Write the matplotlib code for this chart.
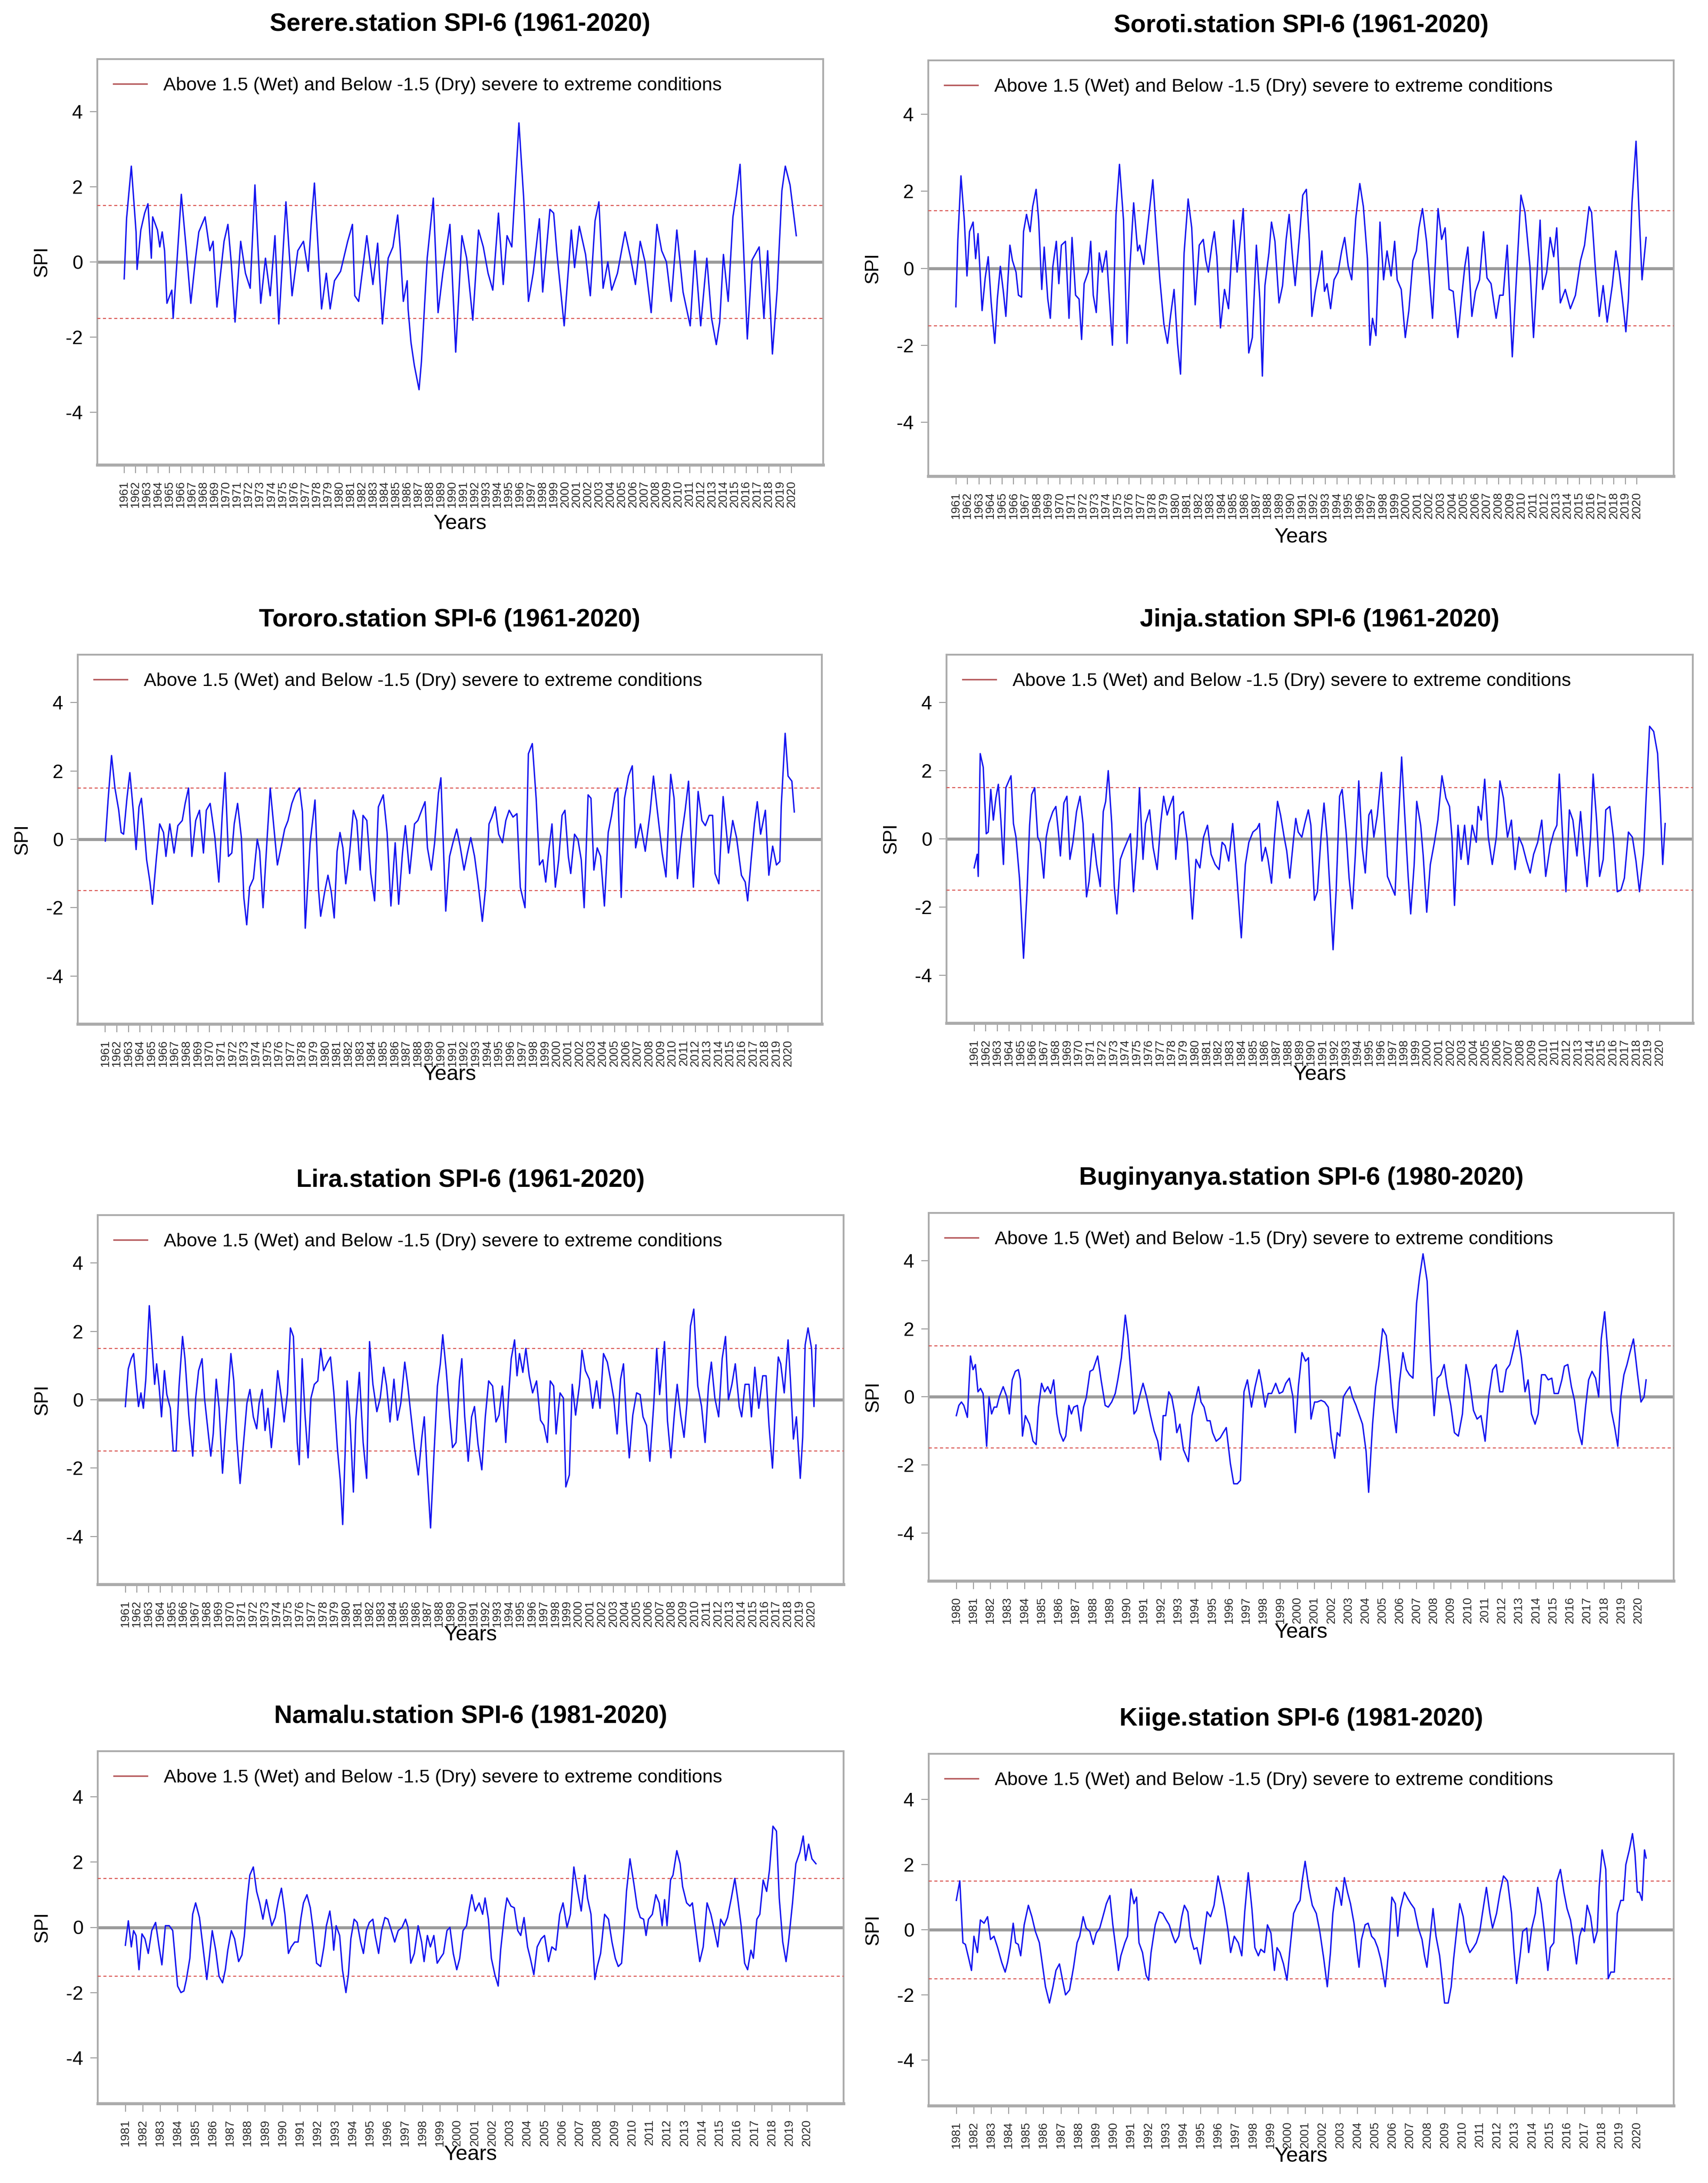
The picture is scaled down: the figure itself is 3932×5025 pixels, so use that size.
import numpy as np
import matplotlib
matplotlib.use('Agg')
import matplotlib.pyplot as plt
from matplotlib import font_manager as fm
from matplotlib.lines import Line2D

# ---------------- data ----------------
serere_years = [1961.00,1961.21,1961.63,1962.05,1962.14,1962.47,1962.81,1963.10,1963.40,1963.52,
1963.94,1964.15,1964.36,1964.57,1964.78,1965.21,1965.33,1965.63,1966.05,1966.47,
1966.89,1967.31,1967.60,1968.15,1968.57,1968.86,1969.20,1969.83,1970.17,1970.46,
1970.80,1971.30,1971.72,1972.14,1972.56,1973.07,1973.49,1973.91,1974.33,1974.67,
1975.30,1975.84,1976.35,1976.85,1977.27,1977.53,1977.82,1978.45,1978.87,1979.21,
1979.59,1980.13,1980.76,1981.18,1981.39,1981.73,1982.45,1982.99,1983.41,1983.83,
1984.34,1984.76,1985.18,1985.39,1985.68,1986.02,1986.10,1986.36,1986.65,1987.07,
1987.28,1987.79,1988.33,1988.75,1989.17,1989.80,1990.31,1990.86,1991.28,1991.82,
1992.33,1992.75,1993.17,1993.59,1994.09,1994.51,1994.85,1995.27,1995.90,1996.32,
1996.74,1997.16,1997.71,1998.00,1998.64,1998.97,1999.27,1999.90,2000.53,2000.82,
2001.24,2001.79,2002.21,2002.63,2002.97,2003.34,2003.76,2004.10,2004.61,2005.28,
2005.78,2006.20,2006.62,2007.05,2007.59,2008.10,2008.52,2008.94,2009.36,2009.86,
2010.41,2011.04,2011.46,2011.97,2012.51,2012.93,2013.35,2013.65,2013.98,2014.40,
2014.82,2015.12,2015.45,2016.09,2016.51,2017.14,2017.56,2017.89,2018.31,2018.73,
2019.15,2019.45,2019.87,2020.42]
serere_spi = [-0.45,1.15,2.55,0.8,-0.2,0.85,1.3,1.55,0.1,1.2,
0.85,0.4,0.8,0.3,-1.1,-0.75,-1.5,-0.15,1.8,0.4,
-1.1,0.1,0.8,1.2,0.3,0.55,-1.2,0.55,1.0,0,
-1.6,0.55,-0.3,-0.7,2.05,-1.1,0.1,-0.9,0.7,-1.65,
1.6,-0.9,0.3,0.55,-0.25,1.0,2.1,-1.25,-0.3,-1.25,
-0.5,-0.25,0.55,1.0,-0.9,-1.05,0.7,-0.6,0.5,-1.65,
0.1,0.4,1.25,0.4,-1.05,-0.5,-1.25,-2.15,-2.75,-3.4,
-2.65,0.1,1.7,-1.35,-0.3,1.0,-2.4,0.7,0.1,-1.55,
0.85,0.4,-0.3,-0.75,1.3,-0.6,0.7,0.4,3.7,1.7,
-1.05,-0.3,1.15,-0.8,1.4,1.3,0.2,-1.7,0.85,-0.15,
0.95,0.2,-0.9,1.1,1.6,-0.7,0,-0.75,-0.3,0.8,
0.1,-0.6,0.55,0,-1.35,1.0,0.3,0,-1.05,0.85,
-0.8,-1.7,0.3,-1.7,0.1,-1.5,-2.2,-1.6,0.2,-1.05,
1.2,1.8,2.6,-2.05,0.05,0.4,-1.5,0.3,-2.45,-0.75,
1.9,2.55,2.05,0.7]

soroti_years = [1961.00,1961.17,1961.44,1961.74,1961.96,1962.18,1962.49,1962.71,1962.92,1963.27,
1963.54,1963.80,1964.06,1964.37,1964.59,1964.85,1965.11,1965.33,1965.68,1965.90,
1966.21,1966.42,1966.69,1966.86,1967.12,1967.43,1967.65,1967.95,1968.17,1968.44,
1968.65,1968.96,1969.18,1969.40,1969.70,1969.92,1970.14,1970.49,1970.80,1971.06,
1971.37,1971.67,1971.89,1972.11,1972.46,1972.68,1972.90,1973.16,1973.42,1973.68,
1974.03,1974.30,1974.56,1974.87,1975.17,1975.52,1975.83,1976.05,1976.40,1976.75,
1976.92,1977.27,1977.49,1978.06,1978.36,1978.67,1979.02,1979.33,1979.59,1979.90,
1980.20,1980.46,1980.77,1981.12,1981.43,1981.73,1982.08,1982.43,1982.65,1982.87,
1983.18,1983.39,1983.61,1983.92,1984.27,1984.62,1985.06,1985.36,1985.89,1986.11,
1986.37,1986.68,1987.03,1987.33,1987.55,1987.77,1988.12,1988.34,1988.64,1988.99,
1989.30,1989.61,1989.87,1990.17,1990.39,1990.74,1991.05,1991.36,1991.62,1991.84,
1992.14,1992.49,1992.71,1992.93,1993.15,1993.46,1993.76,1994.11,1994.42,1994.68,
1994.99,1995.29,1995.64,1995.99,1996.30,1996.65,1996.87,1997.09,1997.39,1997.74,
1998.05,1998.35,1998.70,1999.01,1999.23,1999.58,1999.93,2000.24,2000.59,2000.89,
2001.11,2001.42,2001.77,2001.98,2002.29,2002.77,2003.08,2003.38,2003.73,2004.08,
2004.48,2004.83,2005.09,2005.35,2005.70,2006.01,2006.36,2006.71,2007.01,2007.36,
2007.80,2008.11,2008.41,2008.76,2009.20,2009.55,2009.95,2010.30,2010.73,2011.04,
2011.61,2011.83,2012.18,2012.48,2012.79,2013.05,2013.36,2013.79,2014.23,2014.67,
2015.11,2015.46,2015.85,2016.07,2016.42,2016.73,2017.07,2017.42,2017.86,2018.17,
2018.47,2018.74,2019.04,2019.26,2019.57,2019.92,2020.14,2020.44,2020.79]
soroti_spi = [-1.0,0.75,2.4,1.2,-0.2,0.95,1.2,0.25,0.9,-1.1,
-0.25,0.3,-0.9,-1.95,-0.8,0.05,-0.6,-1.25,0.6,0.2,
-0.1,-0.7,-0.75,0.95,1.4,0.95,1.6,2.05,1.25,-0.55,
0.55,-0.8,-1.3,0.05,0.7,-0.4,0.6,0.7,-1.3,0.8,
-0.7,-0.8,-1.85,-0.4,-0.1,0.7,-0.7,-1.15,0.4,-0.1,
0.45,-0.8,-2.0,1.4,2.7,1.25,-1.95,-0.1,1.7,0.45,
0.6,0.1,0.75,2.3,0.95,-0.3,-1.45,-1.95,-1.25,-0.55,
-1.95,-2.75,0.4,1.8,1.05,-0.95,0.6,0.75,0.2,-0.1,
0.6,0.95,0.3,-1.55,-0.55,-1.05,1.25,-0.1,1.55,-0.1,
-2.2,-1.8,0.6,-0.8,-2.8,-0.45,0.4,1.2,0.7,-0.9,
-0.45,0.75,1.4,0.25,-0.45,0.75,1.9,2.05,0.7,-1.25,
-0.6,-0.05,0.45,-0.6,-0.4,-1.05,-0.3,-0.1,0.45,0.8,
0.05,-0.3,1.3,2.2,1.6,0.25,-2.0,-1.3,-1.75,1.2,
-0.3,0.45,-0.2,0.7,-0.3,-0.55,-1.8,-1.1,0.2,0.45,
1.05,1.55,0.7,-0.1,-1.3,1.55,0.75,1.05,-0.55,-0.6,
-1.8,-0.7,0.05,0.55,-1.25,-0.6,-0.3,0.95,-0.25,-0.4,
-1.3,-0.7,-0.7,0.6,-2.3,-0.3,1.9,1.45,0.05,-1.8,
1.25,-0.55,-0.1,0.8,0.3,1.05,-0.9,-0.55,-1.05,-0.7,
0.2,0.6,1.6,1.45,-0.1,-1.25,-0.45,-1.4,-0.45,0.45,
-0.1,-0.8,-1.65,-0.8,1.7,3.3,1.75,-0.3,0.8]

tororo_years = [1961.00,1961.25,1961.54,1961.83,1962.16,1962.37,1962.58,1962.87,1963.12,1963.41,
1963.66,1963.91,1964.12,1964.32,1964.57,1964.86,1965.07,1965.40,1965.70,1966.03,
1966.24,1966.57,1966.94,1967.27,1967.65,1967.90,1968.19,1968.48,1968.81,1969.14,
1969.48,1969.73,1970.06,1970.47,1970.81,1971.10,1971.35,1971.64,1971.93,1972.14,
1972.43,1972.76,1972.97,1973.22,1973.47,1973.80,1974.13,1974.34,1974.63,1974.96,
1975.25,1975.54,1975.87,1976.21,1976.50,1976.79,1977.12,1977.45,1977.79,1978.04,
1978.28,1978.70,1979.12,1979.41,1979.61,1979.95,1980.24,1980.53,1980.78,1981.03,
1981.28,1981.53,1981.78,1982.11,1982.44,1982.73,1983.02,1983.27,1983.60,1983.94,
1984.27,1984.60,1985.02,1985.35,1985.68,1986.05,1986.35,1986.68,1986.93,1987.30,
1987.72,1988.01,1988.34,1988.63,1988.84,1989.17,1989.46,1989.79,1990.00,1990.42,
1990.75,1991.04,1991.37,1991.66,1992.00,1992.29,1992.58,1992.91,1993.24,1993.58,
1993.87,1994.16,1994.41,1994.70,1994.99,1995.32,1995.61,1995.90,1996.23,1996.57,
1996.86,1997.27,1997.56,1997.90,1998.23,1998.52,1998.81,1999.06,1999.35,1999.60,
1999.89,2000.18,2000.47,2000.72,2001.01,2001.22,2001.55,2001.84,2002.13,2002.38,
2002.72,2002.97,2003.22,2003.51,2003.80,2004.13,2004.46,2004.75,2005.04,2005.29,
2005.58,2005.87,2006.21,2006.54,2006.83,2007.25,2007.66,2008.08,2008.37,2008.70,
2009.12,2009.45,2009.86,2010.15,2010.44,2010.78,2011.11,2011.40,2011.82,2012.23,
2012.56,2012.85,2013.19,2013.48,2013.69,2014.02,2014.39,2014.85,2015.22,2015.55,
2015.97,2016.30,2016.51,2016.80,2017.09,2017.34,2017.63,2018.04,2018.34,2018.67,
2019.00,2019.29,2019.41,2019.75,2020.00,2020.33,2020.54]
tororo_spi = [-0.05,1.2,2.45,1.5,0.85,0.2,0.15,1.2,1.95,0.85,
-0.3,0.95,1.2,0.45,-0.6,-1.25,-1.9,-0.6,0.45,0.2,
-0.5,0.45,-0.4,0.4,0.55,1.05,1.5,-0.5,0.55,0.85,
-0.4,0.85,1.05,0.05,-1.25,0.7,1.95,-0.5,-0.4,0.45,
1.05,0.05,-1.7,-2.5,-1.4,-1.15,0,-0.35,-2.0,-0.1,
1.5,0.45,-0.75,-0.2,0.3,0.55,1.05,1.35,1.5,0.8,
-2.6,-0.1,1.15,-1.4,-2.25,-1.55,-1.05,-1.55,-2.3,-0.35,
0.2,-0.25,-1.3,-0.4,0.85,0.55,-0.9,0.7,0.55,-1.0,
-1.8,0.95,1.3,0.2,-1.95,-0.1,-1.9,-0.4,0.4,-1.0,
0.45,0.55,0.85,1.1,-0.25,-0.9,-0.1,1.35,1.8,-2.1,
-0.5,-0.1,0.3,-0.2,-0.9,-0.4,0.05,-0.5,-1.35,-2.4,
-1.4,0.45,0.65,0.95,0.15,-0.1,0.55,0.85,0.65,0.75,
-1.4,-2.0,2.5,2.8,1.2,-0.75,-0.6,-1.25,-0.25,0.45,
-1.4,-0.6,0.7,0.85,-0.5,-1.0,0.15,0,-0.6,-2.0,
1.3,1.2,-0.9,-0.25,-0.5,-1.95,0.2,0.7,1.35,1.5,
-1.7,1.2,1.85,2.15,-0.25,0.45,-0.35,0.8,1.85,0.85,
-0.4,-1.1,1.9,1.2,-1.15,0.05,0.85,1.7,-1.4,1.4,
0.55,0.4,0.7,0.7,-1.0,-1.3,1.25,-0.4,0.55,0.05,
-1.05,-1.25,-1.8,-0.65,0.45,1.1,0.15,0.85,-1.05,-0.2,
-0.75,-0.65,0.95,3.1,1.85,1.7,0.8]

jinja_years = [1961.00,1961.26,1961.35,1961.52,1961.78,1962.04,1962.21,1962.43,1962.65,1962.87,
1963.08,1963.30,1963.52,1963.73,1964.17,1964.38,1964.60,1964.90,1965.25,1965.55,
1965.77,1965.95,1966.21,1966.47,1966.68,1966.99,1967.20,1967.42,1967.77,1968.03,
1968.29,1968.42,1968.72,1968.98,1969.24,1969.50,1969.81,1970.11,1970.37,1970.67,
1970.89,1971.24,1971.54,1971.85,1972.11,1972.32,1972.54,1972.84,1973.06,1973.28,
1973.58,1973.84,1974.14,1974.45,1974.71,1975.01,1975.23,1975.53,1975.75,1976.10,
1976.40,1976.75,1977.05,1977.31,1977.61,1977.83,1978.14,1978.35,1978.70,1979.00,
1979.35,1979.78,1980.09,1980.43,1980.74,1981.08,1981.39,1981.74,1982.08,1982.34,
1982.60,1982.91,1983.25,1983.56,1983.99,1984.34,1984.64,1984.99,1985.34,1985.55,
1985.77,1986.07,1986.29,1986.59,1986.85,1987.11,1987.37,1987.68,1987.90,1988.16,
1988.46,1988.68,1988.89,1989.20,1989.46,1989.76,1989.98,1990.28,1990.54,1990.85,
1991.11,1991.37,1991.63,1991.89,1992.15,1992.45,1992.67,1993.01,1993.27,1993.54,
1993.80,1994.10,1994.40,1994.66,1994.97,1995.18,1995.40,1995.70,1996.05,1996.31,
1996.57,1996.92,1997.22,1997.44,1997.79,1998.00,1998.35,1998.57,1998.87,1999.09,
1999.43,1999.65,1999.95,2000.26,2000.61,2000.91,2001.26,2001.60,2001.91,2002.12,
2002.34,2002.64,2002.90,2003.21,2003.51,2003.86,2004.21,2004.38,2004.64,2004.94,
2005.25,2005.59,2005.94,2006.25,2006.55,2006.90,2007.24,2007.55,2007.89,2008.20,
2008.54,2008.85,2009.15,2009.50,2009.85,2010.19,2010.58,2010.89,2011.15,2011.36,
2011.67,2011.93,2012.23,2012.53,2012.88,2013.19,2013.49,2013.75,2014.05,2014.27,
2014.57,2014.83,2015.14,2015.36,2015.70,2016.01,2016.35,2016.66,2016.96,2017.31,
2017.65,2017.96,2018.26,2018.61,2018.83,2019.13,2019.48,2019.82,2020.04,2020.26,
2020.47]
jinja_spi = [-0.85,-0.45,-1.1,2.5,2.1,0.15,0.2,1.45,0.55,1.2,
1.6,0.55,-0.75,1.5,1.85,0.45,0.05,-1.15,-3.5,-1.55,
0.4,1.3,1.5,0.05,-0.1,-1.15,0.05,0.45,0.8,0.95,
0.05,-0.5,1.05,1.25,-0.6,-0.1,0.8,1.25,0.45,-1.7,
-1.25,0.15,-0.75,-1.4,0.8,1.1,2.0,0.45,-1.4,-2.2,
-0.6,-0.35,-0.1,0.15,-1.55,-0.2,1.5,-0.6,0.45,0.85,
-0.25,-0.9,0.45,1.25,0.7,0.95,1.25,-0.6,0.7,0.8,
-0.1,-2.35,-0.6,-0.85,0.05,0.4,-0.45,-0.75,-0.9,-0.1,
-0.2,-0.65,0.45,-0.9,-2.9,-0.75,-0.1,0.2,0.3,0.45,
-0.65,-0.25,-0.6,-1.3,0.05,1.1,0.7,0.05,-0.35,-1.15,
-0.1,0.6,0.2,0.05,0.45,0.85,0.4,-1.8,-1.55,0.05,
1.05,0.05,-1.55,-3.25,-1.55,1.25,1.45,0.2,-1.15,-2.05,
-0.5,1.7,-0.25,-1.0,0.7,0.85,0.05,0.7,1.95,0.45,
-1.1,-1.4,-1.65,0.05,2.4,1.05,-1.1,-2.2,-0.75,1.1,
0.4,-0.5,-2.15,-0.75,-0.1,0.55,1.85,1.2,0.95,0.05,
-1.95,0.4,-0.6,0.4,-0.75,0.4,-0.1,0.95,0.55,1.75,
0.05,-0.75,0.05,1.7,1.2,0.05,0.55,-0.9,0.05,-0.2,
-0.65,-1.0,-0.45,-0.1,0.55,-1.1,-0.2,0.2,0.4,1.9,
-0.1,-1.55,0.85,0.55,-0.5,0.8,-0.45,-1.4,0.05,1.9,
0.55,-1.1,-0.6,0.85,0.95,0.05,-1.55,-1.5,-1.15,0.2,
0.05,-0.65,-1.55,-0.45,1.2,3.3,3.15,2.5,1.05,-0.75,
0.45]

lira_years = [1961.00,1961.25,1961.50,1961.71,1961.92,1962.13,1962.34,1962.55,1962.76,1963.06,
1963.31,1963.52,1963.69,1963.90,1964.11,1964.36,1964.57,1964.87,1965.12,1965.37,
1965.62,1965.92,1966.13,1966.46,1966.80,1967.05,1967.30,1967.60,1967.81,1968.06,
1968.35,1968.56,1968.82,1969.07,1969.36,1969.61,1969.82,1970.08,1970.33,1970.58,
1970.87,1971.17,1971.46,1971.72,1972.01,1972.30,1972.51,1972.77,1973.02,1973.27,
1973.56,1973.82,1974.11,1974.45,1974.66,1974.95,1975.20,1975.46,1975.79,1975.96,
1976.21,1976.46,1976.72,1976.97,1977.26,1977.56,1977.81,1978.06,1978.40,1978.65,
1978.94,1979.24,1979.49,1979.70,1979.91,1980.08,1980.33,1980.62,1980.83,1981.13,
1981.46,1981.76,1982.01,1982.30,1982.64,1982.93,1983.23,1983.48,1983.77,1984.11,
1984.41,1984.70,1985.04,1985.29,1985.54,1985.88,1986.21,1986.51,1986.72,1986.93,
1987.26,1987.56,1987.85,1988.10,1988.31,1988.61,1988.90,1989.15,1989.45,1989.74,
1989.95,1990.20,1990.50,1990.79,1991.04,1991.34,1991.67,1991.97,1992.26,1992.60,
1992.89,1993.15,1993.44,1993.73,1993.99,1994.20,1994.49,1994.70,1994.91,1995.20,
1995.46,1995.75,1996.04,1996.38,1996.72,1997.01,1997.31,1997.56,1997.85,1998.06,
1998.40,1998.69,1998.90,1999.20,1999.45,1999.74,2000.08,2000.29,2000.58,2000.92,
2001.21,2001.55,2001.84,2002.14,2002.47,2002.77,2003.02,2003.31,2003.61,2003.86,
2004.11,2004.36,2004.66,2004.99,2005.29,2005.54,2005.84,2006.13,2006.47,2006.72,
2006.97,2007.39,2007.64,2007.94,2008.23,2008.48,2008.78,2009.07,2009.32,2009.62,
2009.91,2010.25,2010.58,2010.88,2011.17,2011.42,2011.72,2012.05,2012.35,2012.64,
2012.89,2013.19,2013.48,2013.82,2014.03,2014.32,2014.66,2014.87,2015.16,2015.50,
2015.84,2016.13,2016.38,2016.68,2016.97,2017.18,2017.39,2017.69,2018.02,2018.23,
2018.48,2018.74,2019.07,2019.28,2019.49,2019.74,2020.04,2020.25,2020.42]
lira_spi = [-0.2,0.9,1.2,1.35,0.55,-0.2,0.2,-0.25,0.6,2.75,
1.5,0.45,1.05,0.4,-0.5,0.85,0.15,-0.25,-1.5,-1.5,
0.4,1.85,1.2,-0.45,-1.65,0.05,0.85,1.2,0.05,-0.75,
-1.65,-1.0,0.6,-0.25,-2.15,-0.9,0.05,1.35,0.55,-1.15,
-2.45,-1.25,-0.1,0.3,-0.5,-0.85,-0.1,0.3,-0.9,-0.25,
-1.4,-0.45,0.85,0,-0.65,0.2,2.1,1.85,-1.25,-1.9,
1.2,-0.45,-1.7,0.05,0.45,0.55,1.5,0.85,1.1,1.25,
0.2,-1.4,-2.35,-3.65,-1.55,0.55,-0.6,-2.7,-0.6,0.8,
-1.25,-2.3,1.7,0.45,-0.35,0.05,0.95,0.4,-0.65,0.6,
-0.6,-0.1,1.1,0.45,-0.35,-1.4,-2.2,-1.1,-0.5,-1.9,
-3.75,-1.55,0.4,1.05,1.9,0.85,-0.45,-1.4,-1.25,0.55,
1.2,-0.5,-1.8,-0.5,-0.2,-1.3,-2.05,-0.5,0.55,0.4,
-0.65,-0.45,0.4,-1.25,0.2,1.2,1.75,0.7,1.35,0.8,
1.5,0.7,0.2,0.55,-0.6,-0.75,-1.25,0.55,0.4,-1.0,
0.2,0.05,-2.55,-2.2,0.45,-0.45,0.45,1.45,0.85,0.6,
-0.25,0.55,-0.25,1.35,1.1,0.55,0.05,-1.0,0.6,1.05,
-0.6,-1.7,-0.45,0.2,0.15,-0.5,-0.75,-1.8,-0.1,1.5,
0.15,1.7,-0.6,-1.7,-0.45,0.45,-0.45,-1.1,-0.1,2.15,
2.65,0.4,-0.2,-1.25,0.4,1.1,0.05,-0.5,1.2,1.85,
0,0.45,1.05,-0.2,-0.5,0.45,0.45,-0.5,0.95,-0.25,
0.7,0.7,-0.75,-2.0,0.05,1.25,1.05,0.2,1.75,0.55,
-1.15,-0.5,-2.3,-1.1,1.6,2.1,1.5,-0.2,1.6]

bugi_years = [1980.00,1980.15,1980.30,1980.44,1980.65,1980.83,1980.98,1981.12,1981.27,1981.42,
1981.57,1981.78,1981.92,1982.07,1982.22,1982.37,1982.52,1982.75,1982.96,1983.11,
1983.28,1983.46,1983.64,1983.76,1983.88,1984.05,1984.29,1984.50,1984.68,1984.82,
1985.00,1985.18,1985.36,1985.53,1985.71,1985.89,1986.07,1986.27,1986.42,1986.60,
1986.75,1986.89,1987.10,1987.31,1987.46,1987.63,1987.84,1988.02,1988.29,1988.49,
1988.73,1988.91,1989.11,1989.32,1989.47,1989.68,1989.91,1990.06,1990.27,1990.42,
1990.56,1990.74,1990.95,1991.16,1991.39,1991.60,1991.81,1991.98,1992.13,1992.28,
1992.46,1992.63,1992.81,1992.93,1993.11,1993.32,1993.61,1993.82,1994.06,1994.20,
1994.35,1994.53,1994.71,1994.88,1995.03,1995.24,1995.48,1995.65,1995.83,1996.07,
1996.27,1996.48,1996.66,1996.87,1997.07,1997.31,1997.52,1997.75,1997.90,1998.11,
1998.29,1998.49,1998.73,1998.94,1999.14,1999.32,1999.53,1999.74,1999.88,2000.06,
2000.27,2000.48,2000.65,2000.80,2001.01,2001.16,2001.39,2001.60,2001.81,2001.99,
2002.19,2002.34,2002.49,2002.70,2002.87,2003.08,2003.23,2003.44,2003.61,2003.82,
2004.03,2004.18,2004.41,2004.59,2004.77,2005.00,2005.21,2005.39,2005.60,2005.80,
2005.98,2006.19,2006.39,2006.57,2006.78,2006.99,2007.16,2007.37,2007.61,2007.81,
2008.02,2008.20,2008.41,2008.61,2008.79,2009.00,2009.21,2009.44,2009.68,2009.89,
2010.09,2010.33,2010.54,2010.77,2011.01,2011.22,2011.45,2011.66,2011.87,2012.05,
2012.25,2012.46,2012.70,2012.90,2013.14,2013.35,2013.53,2013.73,2013.94,2014.12,
2014.32,2014.53,2014.71,2014.92,2015.06,2015.30,2015.51,2015.66,2015.86,2016.07,
2016.25,2016.48,2016.69,2016.90,2017.08,2017.28,2017.49,2017.67,2017.82,2018.02,
2018.23,2018.41,2018.61,2018.79,2018.97,2019.15,2019.33,2019.50,2019.71,2019.95,
2020.15,2020.33,2020.45]
bugi_spi = [-0.55,-0.25,-0.15,-0.25,-0.6,1.2,0.8,0.95,0.15,0.25,
0.1,-1.45,0,-0.5,-0.3,-0.3,0,0.3,0,-0.5,
0.5,0.75,0.8,0.5,-1.15,-0.55,-0.8,-1.3,-1.4,-0.3,
0.4,0.15,0.3,0.1,0.5,-0.5,-1.05,-1.3,-1.15,-0.25,
-0.5,-0.3,-0.25,-1.0,-0.3,0,0.75,0.8,1.2,0.5,
-0.25,-0.3,-0.15,0.1,0.5,1.15,2.4,1.8,0.5,-0.5,
-0.4,0,0.4,0,-0.55,-1.0,-1.3,-1.85,-0.55,-0.55,
0.15,0,-0.5,-1.05,-0.8,-1.55,-1.9,-0.55,0,0.3,
-0.15,-0.3,-0.7,-0.7,-1.05,-1.3,-1.2,-1.05,-0.9,-1.95,
-2.55,-2.55,-2.45,0.15,0.5,-0.3,0.3,0.8,0.4,-0.3,
0.1,0.1,0.4,0.1,0.15,0.4,0.55,0,-1.05,0.3,
1.3,1.05,1.15,-0.65,-0.15,-0.15,-0.1,-0.15,-0.3,-1.2,
-1.8,-1.05,-1.15,0,0.15,0.3,0,-0.25,-0.5,-0.8,
-1.6,-2.8,-0.8,0.3,0.9,2.0,1.8,0.95,-0.3,-1.05,
0.4,1.3,0.8,0.65,0.55,2.75,3.5,4.2,3.4,1.15,
-0.55,0.55,0.65,0.95,0.3,-0.25,-1.05,-1.15,-0.5,0.95,
0.5,-0.4,-0.65,-0.55,-1.3,0,0.8,0.95,0.15,0.15,
0.8,0.95,1.45,1.95,1.15,0.15,0.5,-0.5,-0.8,-0.5,
0.65,0.65,0.5,0.55,0.1,0.1,0.5,0.9,0.95,0.3,
-0.1,-1.0,-1.4,-0.3,0.5,0.75,0.55,0,1.7,2.5,
1.15,-0.4,-0.9,-1.45,0,0.65,0.95,1.3,1.7,0.65,
-0.15,0,0.5]

namalu_years = [1981.00,1981.17,1981.34,1981.47,1981.61,1981.78,1981.95,1982.12,1982.31,1982.51,
1982.73,1982.93,1983.09,1983.29,1983.51,1983.71,1983.85,1983.99,1984.18,1984.35,
1984.49,1984.69,1984.85,1985.02,1985.24,1985.44,1985.66,1985.80,1985.97,1986.17,
1986.36,1986.56,1986.72,1986.86,1987.06,1987.25,1987.48,1987.67,1987.81,1987.95,
1988.12,1988.32,1988.51,1988.68,1988.87,1989.07,1989.24,1989.38,1989.57,1989.77,
1989.93,1990.13,1990.33,1990.49,1990.69,1990.88,1991.05,1991.19,1991.39,1991.58,
1991.75,1991.94,1992.17,1992.36,1992.50,1992.70,1992.84,1992.92,1993.06,1993.26,
1993.42,1993.62,1993.76,1993.90,1994.09,1994.26,1994.46,1994.62,1994.79,1994.96,
1995.16,1995.29,1995.49,1995.66,1995.85,1996.02,1996.22,1996.41,1996.61,1996.83,
1997.03,1997.17,1997.33,1997.53,1997.75,1997.95,1998.09,1998.28,1998.45,1998.65,
1998.84,1999.01,1999.20,1999.40,1999.57,1999.76,1999.96,2000.13,2000.32,2000.52,
2000.68,2000.82,2001.02,2001.24,2001.44,2001.58,2001.77,2001.94,2002.14,2002.33,
2002.47,2002.69,2002.83,2003.06,2003.25,2003.45,2003.62,2003.81,2004.01,2004.17,
2004.37,2004.56,2004.79,2004.98,2005.21,2005.40,2005.63,2005.85,2006.04,2006.27,
2006.46,2006.66,2006.88,2007.08,2007.30,2007.44,2007.64,2007.86,2008.00,2008.19,
2008.42,2008.64,2008.84,2009.03,2009.20,2009.39,2009.53,2009.67,2009.87,2010.09,
2010.29,2010.46,2010.65,2010.79,2010.93,2011.15,2011.35,2011.54,2011.71,2011.85,
2011.99,2012.19,2012.33,2012.55,2012.74,2012.88,2013.11,2013.30,2013.44,2013.67,
2013.86,2014.06,2014.28,2014.50,2014.70,2014.89,2015.06,2015.26,2015.45,2015.67,
2015.87,2016.04,2016.23,2016.43,2016.60,2016.79,2016.93,2017.13,2017.30,2017.49,
2017.69,2017.85,2018.05,2018.25,2018.41,2018.61,2018.80,2018.94,2019.17,2019.36,
2019.59,2019.78,2019.92,2020.09,2020.28,2020.51]
namalu_spi = [-0.55,0.2,-0.6,-0.1,-0.25,-1.3,-0.2,-0.35,-0.8,-0.1,
0.15,-0.6,-1.15,0.05,0.05,-0.1,-0.95,-1.8,-2.0,-1.95,
-1.6,-0.95,0.4,0.75,0.3,-0.6,-1.6,-0.95,-0.1,-0.7,
-1.5,-1.7,-1.3,-0.7,-0.1,-0.35,-1.05,-0.85,-0.25,0.75,
1.6,1.85,1.1,0.75,0.25,0.85,0.4,0.05,0.3,0.85,
1.2,0.4,-0.8,-0.6,-0.45,-0.45,0.3,0.75,1.0,0.6,
-0.1,-1.1,-1.2,-0.6,0.05,0.5,-0.1,-0.7,0.05,-0.25,
-1.3,-2.0,-1.45,-0.35,0.25,0.15,-0.45,-0.8,-0.1,0.15,
0.25,-0.25,-0.8,-0.1,0.3,0.25,-0.1,-0.45,-0.1,0,
0.25,0,-1.1,-0.8,0.05,-0.45,-1.05,-0.25,-0.6,-0.25,
-1.1,-0.95,-0.8,-0.1,0,-0.8,-1.3,-0.95,-0.1,0.05,
0.6,1.0,0.5,0.75,0.4,0.9,0.25,-0.95,-1.45,-1.8,
-0.7,0.4,0.9,0.65,0.6,-0.1,-0.25,0.3,-0.6,-0.95,
-1.45,-0.6,-0.35,-0.25,-1.05,-0.6,-0.7,0.4,0.75,0,
0.4,1.85,1.1,0.5,1.6,0.9,0.4,-1.6,-1.2,-0.8,
0.4,0.25,-0.45,-0.95,-1.2,-1.1,-0.1,1.1,2.1,1.35,
0.6,0.3,0.25,-0.25,0.25,0.4,1.0,0.75,0.05,0.85,
0.05,1.45,1.6,2.35,1.95,1.25,0.75,0.65,0.75,-0.25,
-1.05,-0.6,0.75,0.4,-0.1,-0.6,0.25,0.05,0.3,0.9,
1.5,0.85,0.05,-1.1,-1.3,-0.7,-0.95,0.25,0.4,1.45,
1.1,1.75,3.1,2.95,0.9,-0.45,-1.05,-0.45,0.75,1.95,
2.3,2.8,2.05,2.55,2.1,1.95]

kiige_years = [1981.00,1981.20,1981.38,1981.52,1981.72,1981.87,1982.01,1982.21,1982.38,1982.59,
1982.79,1982.96,1983.16,1983.37,1983.60,1983.80,1983.94,1984.09,1984.26,1984.40,
1984.55,1984.69,1984.89,1985.13,1985.33,1985.53,1985.76,1985.93,1986.11,1986.34,
1986.54,1986.71,1986.91,1987.09,1987.26,1987.49,1987.72,1987.92,1988.07,1988.27,
1988.44,1988.65,1988.85,1989.02,1989.22,1989.45,1989.60,1989.80,1989.97,1990.15,
1990.29,1990.43,1990.66,1990.81,1991.01,1991.18,1991.33,1991.47,1991.67,1991.88,
1992.02,1992.16,1992.40,1992.63,1992.83,1993.03,1993.20,1993.41,1993.55,1993.75,
1993.92,1994.07,1994.27,1994.42,1994.62,1994.79,1994.99,1995.19,1995.37,1995.57,
1995.77,1996.00,1996.20,1996.38,1996.58,1996.72,1996.93,1997.16,1997.36,1997.53,
1997.73,1997.94,1998.11,1998.31,1998.45,1998.66,1998.83,1999.03,1999.23,1999.38,
1999.55,1999.75,1999.95,2000.13,2000.33,2000.53,2000.70,2000.82,2000.99,2001.20,
2001.40,2001.63,2001.83,2002.06,2002.26,2002.44,2002.58,2002.78,2002.93,2003.07,
2003.24,2003.42,2003.59,2003.79,2003.94,2004.08,2004.22,2004.43,2004.60,2004.80,
2004.97,2005.15,2005.32,2005.58,2005.75,2005.96,2006.16,2006.30,2006.45,2006.68,
2006.88,2007.05,2007.25,2007.48,2007.69,2007.83,2007.97,2008.12,2008.32,2008.49,
2008.70,2008.84,2008.98,2009.19,2009.36,2009.50,2009.71,2009.85,2010.05,2010.23,
2010.43,2010.63,2010.80,2011.00,2011.15,2011.38,2011.58,2011.73,2011.96,2012.16,
2012.36,2012.59,2012.82,2012.94,2013.11,2013.31,2013.46,2013.69,2013.80,2013.98,
2014.18,2014.32,2014.52,2014.70,2014.90,2015.04,2015.24,2015.42,2015.62,2015.82,
2016.00,2016.20,2016.34,2016.54,2016.72,2016.86,2017.00,2017.15,2017.35,2017.55,
2017.73,2017.84,2018.01,2018.22,2018.36,2018.51,2018.71,2018.88,2019.08,2019.23,
2019.37,2019.57,2019.75,2019.89,2020.03,2020.15,2020.30,2020.44,2020.53]
kiige_spi = [0.9,1.5,-0.4,-0.45,-0.9,-1.25,-0.2,-0.7,0.3,0.2,
0.4,-0.3,-0.2,-0.55,-1.0,-1.3,-1.0,-0.55,0.2,-0.4,
-0.45,-0.8,0.15,0.75,0.4,-0.05,-0.4,-1.05,-1.75,-2.25,
-1.75,-1.25,-1.05,-1.55,-2.0,-1.85,-1.15,-0.4,-0.2,0.4,
0.05,-0.05,-0.45,-0.1,0.05,0.5,0.8,1.05,0.15,-0.6,
-1.25,-0.8,-0.4,-0.2,1.25,0.8,1.0,-0.4,-0.7,-1.4,
-1.55,-0.7,0.15,0.55,0.5,0.3,0.15,-0.2,-0.4,-0.2,
0.4,0.75,0.55,-0.2,-0.6,-0.55,-1.05,-0.2,0.55,0.4,
0.75,1.65,1.15,0.65,-0.05,-0.7,-0.2,-0.4,-0.8,0.55,
1.75,0.65,-0.55,-0.8,-0.6,-0.7,0.15,-0.1,-1.25,-0.55,
-0.7,-1.05,-1.55,-0.55,0.5,0.75,0.9,1.5,2.1,1.3,
0.75,0.5,-0.05,-0.9,-1.75,-0.7,0.5,1.3,1.15,0.75,
1.6,1.15,0.8,0.2,-0.55,-1.15,-0.3,0.15,0.2,-0.2,
-0.3,-0.55,-0.9,-1.75,-0.8,1.0,0.8,-0.2,0.65,1.15,
0.95,0.8,0.65,0.05,-0.3,-0.8,-1.15,-0.4,0.65,-0.2,
-0.8,-1.5,-2.25,-2.25,-1.75,-0.9,0.15,0.8,0.4,-0.4,
-0.7,-0.55,-0.4,-0.05,0.5,1.3,0.5,0.05,0.5,1.15,
1.65,1.5,0.5,-0.55,-1.65,-0.8,-0.05,0.05,-0.7,0.05,
0.5,1.3,0.8,-0.05,-1.25,-0.55,-0.4,1.5,1.85,1.15,
0.65,0.3,-0.2,-1.05,-0.2,0.05,-0.05,0.75,0.4,-0.4,
-0.05,1.3,2.45,1.85,-1.5,-1.3,-1.3,0.5,0.9,0.9,
2.0,2.45,2.95,2.35,1.15,1.15,0.9,2.45,2.2]

titles = ["Serere.station SPI-6 (1961-2020)", "Soroti.station SPI-6 (1961-2020)",
          "Tororo.station SPI-6 (1961-2020)", "Jinja.station SPI-6 (1961-2020)",
          "Lira.station SPI-6 (1961-2020)", "Buginyanya.station SPI-6 (1980-2020)",
          "Namalu.station SPI-6 (1981-2020)", "Kiige.station SPI-6 (1981-2020)"]
start_years = [1961, 1961, 1961, 1961, 1961, 1980, 1981, 1981]
series_years = [serere_years, soroti_years, tororo_years, jinja_years,
                lira_years, bugi_years, namalu_years, kiige_years]
series_spi = [serere_spi, soroti_spi, tororo_spi, jinja_spi,
              lira_spi, bugi_spi, namalu_spi, kiige_spi]
legend_text = "Above 1.5 (Wet) and Below -1.5 (Dry) severe to extreme conditions"
ytick_vals = [-4, -2, 0, 2, 4]
threshold = 1.5

# ---------------- layout (pixel boxes of each plotting region) ----------------
W, H = 3932, 5025
boxes = [(224, 136, 1895, 1070), (2137, 139, 3853, 1096),
         (179, 1507, 1892, 2357), (2179, 1507, 3897, 2355),
         (225, 2797, 1942, 3647), (2138, 2792, 3853, 3639),
         (225, 4031, 1942, 4842), (2138, 4037, 3853, 4847)]
years_offset = [136, 140, 117, 119, 116, 118, 118, 116]

names = {f.name for f in fm.fontManager.ttflist}
if 'Liberation Sans Narrow' in names:
    fam = ['Liberation Sans Narrow', 'Liberation Sans', 'DejaVu Sans']
    k = 1.0
else:
    fam = ['Liberation Sans', 'DejaVu Sans']
    k = 0.84
plt.rcParams['font.family'] = fam
plt.rcParams['axes.unicode_minus'] = False

fig = plt.figure(figsize=(W / 100, H / 100), dpi=100)
fig.patch.set_facecolor('white')

for i in range(8):
    x0, y0, x1, y1 = boxes[i]
    bw, bh = x1 - x0, y1 - y0
    ax = fig.add_axes([x0 / W, 1 - y1 / H, bw / W, bh / H])
    yrs = series_years[i]
    vals = series_spi[i]
    n = min(len(yrs), len(vals))
    yrs = np.array(yrs[:n]); vals = np.array(vals[:n])

    ax.axhline(0, color='#9c9c9c', lw=5, zorder=2)
    for v in (threshold, -threshold):
        ax.axhline(v, color='#d9534f', lw=1.7, ls=(0, (3, 2.5)), zorder=3)
    ax.plot(yrs, vals, color='#1414f0', lw=2.3, zorder=4)

    xmin = start_years[i]
    xmax = yrs.max()
    pad = 0.04 * (xmax - xmin)
    ax.set_xlim(xmin - pad, xmax + pad)
    ax.set_ylim(-5.4, 5.4)

    ticks = list(range(start_years[i], 2021))
    ax.set_xticks(ticks)
    ax.set_xticklabels([str(t) for t in ticks], rotation=90, fontsize=20,
                       family=['Liberation Sans', 'DejaVu Sans'], color='#2a2a2a')
    ax.set_yticks(ytick_vals)
    ax.set_yticklabels([str(v) for v in ytick_vals], fontsize=38 * k)
    ax.tick_params(axis='x', length=14, width=1.6, color='#9a9a9a', pad=12)
    ax.tick_params(axis='y', length=12, width=1.6, color='#9a9a9a', pad=12)
    for s in ax.spines.values():
        s.set_color('#ababab')
        s.set_linewidth(3)
    ax.spines['bottom'].set_linewidth(5)

    fs = 35 * k * 1.06
    fspx = fs * 100 / 72
    h = Line2D([], [], color='#b5585a', lw=2.5)
    ax.legend([h], [legend_text], loc='center left',
              bbox_to_anchor=(37 / bw, 1 - 61 / bh), frameon=False, fontsize=fs,
              borderpad=0, borderaxespad=0, handlelength=77 / fspx,
              handletextpad=38 / fspx)

    cx = (x0 + x1) / 2 / W
    fig.text(cx, 1 - (y0 - 80) / H, titles[i], ha='center', va='center',
             fontsize=45 * k * 1.1, fontweight='bold')
    fig.text(cx, 1 - (y1 + years_offset[i]) / H, 'Years', ha='center', va='center',
             fontsize=38 * k * 1.1)
    fig.text((x0 - 127) / W, 1 - (y0 + y1) / 2 / H, 'SPI', rotation=90,
             ha='center', va='center', fontsize=36 * k * 1.05)

fig.savefig('out.png', dpi=100, facecolor='white')
